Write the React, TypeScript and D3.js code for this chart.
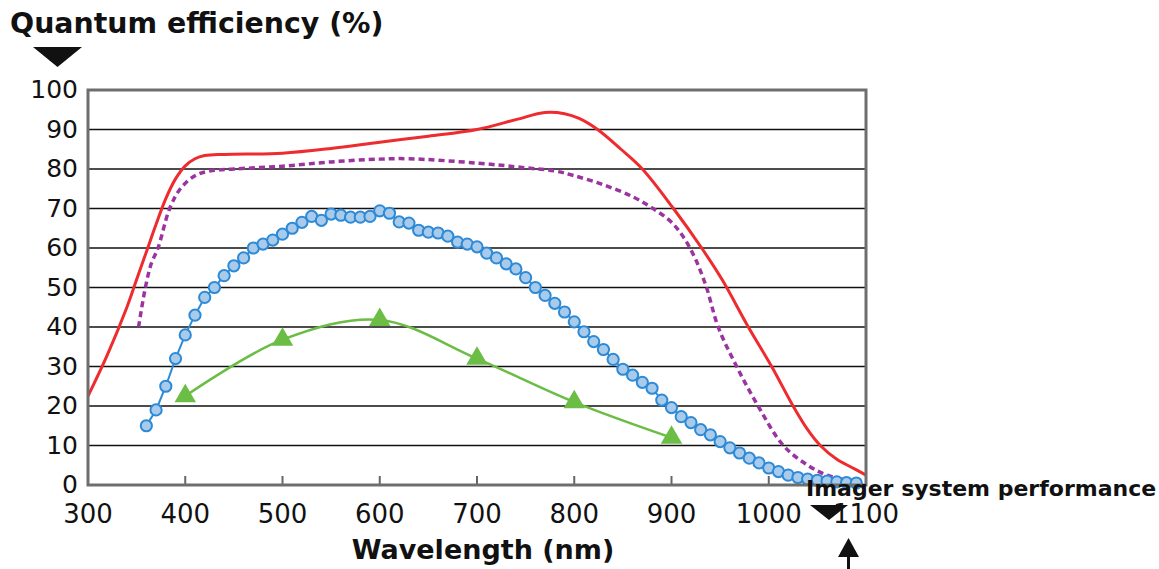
import * as d3 from 'd3';

// wavelength (nm) / quantum efficiency (%)
const redWl = [300, 320, 340, 350, 360, 370, 380, 390, 400, 410, 420, 440, 500, 550, 600, 650, 700, 740, 770, 790, 805, 824, 848, 870, 902, 931, 952, 979, 1003, 1025, 1040, 1053, 1070, 1085, 1100];
const redQe = [22.5, 33, 45, 52, 59, 66, 72.5, 77.5, 80.8, 82.6, 83.4, 83.7, 84, 85.2, 86.8, 88.3, 90, 92.5, 94.3, 94, 92.8, 90, 85, 80, 70, 60, 52, 40, 30, 20, 14, 10, 6.5, 4.5, 2.5];

const purpleWl = [352, 359, 365, 372, 384, 395, 410, 425, 450, 500, 550, 600, 630, 700, 750, 780, 800, 830, 860, 881, 900, 913, 925, 936, 948, 967, 989, 1015, 1040, 1060, 1085];
const purpleQe = [40, 50, 56, 60, 70, 75, 78.3, 79.5, 80, 80.7, 81.8, 82.5, 82.6, 81.5, 80.3, 79.5, 78.3, 76, 73, 70, 66.5, 62.5, 57, 50, 40, 30, 20, 10, 5, 2.5, 1];

const blueWl = [360, 370, 380, 390, 400, 410, 420, 430, 440, 450, 460, 470, 480, 490, 500, 510, 520, 530, 540, 550, 560, 570, 580, 590, 600, 610, 620, 630, 640, 650, 660, 670, 680, 690, 700, 710, 720, 730, 740, 750, 760, 770, 780, 790, 800, 810, 820, 830, 840, 850, 860, 870, 880, 890, 900, 910, 920, 930, 940, 950, 960, 970, 980, 990, 1000, 1010, 1020, 1030, 1040, 1050, 1060, 1070, 1080, 1090];
const blueQe = [15, 19, 25, 32, 38, 43, 47.5, 50, 53, 55.5, 57.5, 60, 61, 62, 63.5, 65, 66.5, 68, 67, 68.6, 68.3, 67.8, 67.8, 68, 69.4, 68.8, 66.6, 66.3, 64.5, 64, 63.8, 63, 61.5, 61, 60.3, 58.7, 57.5, 56, 54.7, 52.5, 50, 48, 46, 43.8, 41.3, 38.8, 36.3, 34.3, 31.8, 29.3, 27.8, 26, 24.5, 21.5, 19.6, 17.3, 15.8, 14, 12.7, 11, 9.4, 8.1, 6.8, 5.6, 4.3, 3.4, 2.5, 1.9, 1.5, 1.2, 1, 0.8, 0.6, 0.5];

const greenWl = [400, 500, 600, 700, 800, 900];
const greenQe = [22.5, 36.8, 41.8, 32, 21, 12];

const xTicks = [300, 400, 500, 600, 700, 800, 900, 1000, 1100];
const yTicks = [0, 10, 20, 30, 40, 50, 60, 70, 80, 90, 100];

const W = 1159;
const H = 569;
const font = '"DejaVu Sans", Verdana, sans-serif';

const x = d3.scaleLinear().domain([300, 1100]).range([88, 866]);
const y = d3.scaleLinear().domain([0, 100]).range([485, 90]);

const zip = (a: number[], b: number[]) => a.map((v, i) => [v, b[i]] as [number, number]);

export default function App() {
  const smooth = d3.line<[number, number]>().x(d => x(d[0])).y(d => y(d[1])).curve(d3.curveCatmullRom);
  const straight = d3.line<[number, number]>().x(d => x(d[0])).y(d => y(d[1]));
  const tri = d3.symbol().type(d3.symbolTriangle).size(200)();

  const [x0, x1] = x.range();
  const [y0, y1] = y.range();

  return (
    <svg width={W} height={H} style={{ position: 'absolute', left: 0, top: 0 }}>
      <rect width={W} height={H} fill="#fff" />

      {/* grid */}
      {yTicks.slice(1, -1).map(t => (
        <line key={t} x1={x0} x2={x1} y1={y(t)} y2={y(t)} stroke="#111" strokeWidth={1.6} />
      ))}
      {xTicks.slice(1, -1).map(t => (
        <line key={t} x1={x(t)} x2={x(t)} y1={y0} y2={y0 - 9} stroke="#666" strokeWidth={2} />
      ))}

      <path d={smooth(zip(redWl, redQe)) ?? ''} fill="none" stroke="#ee2b2e" strokeWidth={3} />
      <path d={smooth(zip(purpleWl, purpleQe)) ?? ''} fill="none" stroke="#9b34a0" strokeWidth={3.5} strokeDasharray="6,4" />

      <path d={smooth(zip(greenWl, greenQe)) ?? ''} fill="none" stroke="#6cbd45" strokeWidth={2.5} />
      {greenWl.map((w, i) => (
        <path key={w} d={tri ?? ''} transform={`translate(${x(w)},${y(greenQe[i])})`} fill="#6cbd45" />
      ))}

      <path d={straight(zip(blueWl, blueQe)) ?? ''} fill="none" stroke="#2d8ad6" strokeWidth={2} />
      {blueWl.map((w, i) => (
        <circle key={w} cx={x(w)} cy={y(blueQe[i])} r={5.6} fill="#a8cbec" stroke="#2d8ad6" strokeWidth={2} />
      ))}

      {/* frame */}
      <rect x={x0} y={y1} width={x1 - x0} height={y0 - y1} fill="none" stroke="#6e6e6e" strokeWidth={3} />

      {yTicks.map(t => (
        <text key={t} x={78} y={y(t)} dy="0.33em" textAnchor="end" fontFamily={font} fontSize={25} fill="#111">{t}</text>
      ))}
      {xTicks.map(t => (
        <text key={t} x={x(t)} y={523} textAnchor="middle" fontFamily={font} fontSize={26} fill="#111">{t}</text>
      ))}

      <text x={10} y={33} fontFamily={font} fontWeight="bold" fontSize={28.4} fill="#111">Quantum efficiency (%)</text>
      <path d="M33,47 L82,47 L57.5,67 Z" fill="#111" />

      <text x={483} y={559} textAnchor="middle" fontFamily={font} fontWeight="bold" fontSize={27} fill="#111">Wavelength (nm)</text>

      <path d="M810,505 L848,505 L829,520 Z" fill="#111" />
      <text x={806} y={496} fontFamily={font} fontWeight="bold" fontSize={22} fill="#111">Imager system performance</text>
      <path d="M838,557 L859,557 L848.5,538 Z" fill="#111" />
      <line x1={848.5} x2={848.5} y1={555} y2={569} stroke="#111" strokeWidth={3} />
    </svg>
  );
}
